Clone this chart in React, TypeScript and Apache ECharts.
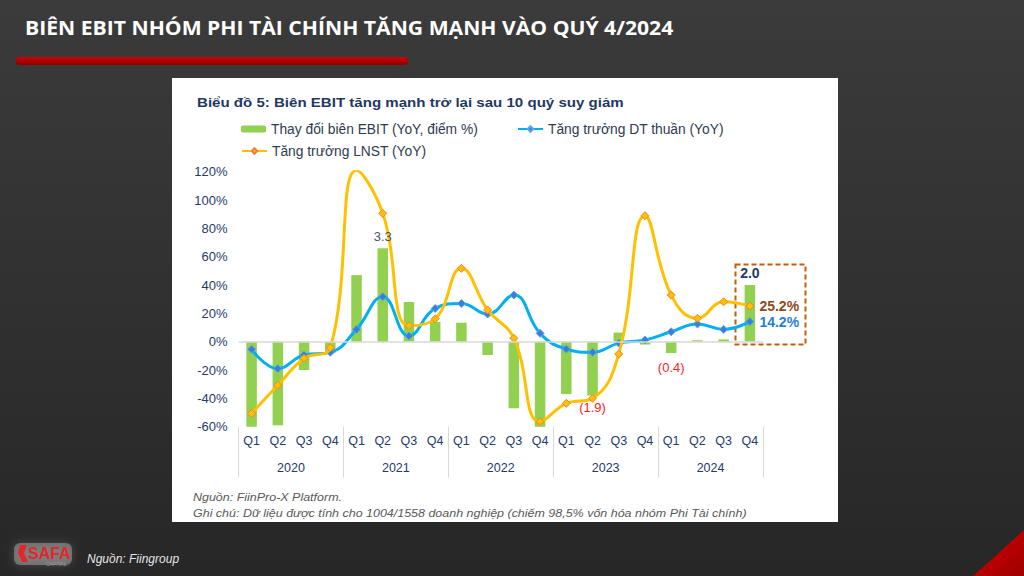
import React, { useEffect, useRef } from "react";
import * as echarts from "echarts";

const years = ["2020", "2021", "2022", "2023", "2024"];
const quarters = ["Q1", "Q2", "Q3", "Q4"];
const categories = years.flatMap((y) => quarters.map((q) => `${q} ${y}`));

// Thay đổi biên EBIT (YoY, điểm %) – percentage points
const ebitMarginChange = [
  -3.0, -2.95, -1.0, -0.4,
  2.35, 3.3, 1.4, 0.7,
  0.67, -0.47, -2.35, -3.0,
  -1.85, -1.9, 0.32, -0.1,
  -0.4, 0.05, 0.08, 2.0,
];
// Tăng trưởng DT thuần (YoY, %)
const revenueGrowth = [
  -5.4, -19, -9.4, -7.5,
  8.7, 31.8, 4, 23.5,
  27, 19.5, 32.9, 5.9,
  -5.2, -7.5, -1, 1.2,
  7, 12.5, 8.7, 14.2,
];
// Tăng trưởng LNST (YoY, %)
const profitGrowth = [
  -50.6, -30.8, -11.8, -4.2,
  121, 90.6, 11.3, 16.2,
  51.8, 22.4, 2.4, -56.5,
  -43.5, -40, -8.7, 88.9,
  32.9, 16.5, 28.2, 25.2,
];

const yMin = -60;
const yMax = 120;
const yStep = 20;

const NAME_BAR = "Thay đổi biên EBIT (YoY, điểm %)";
const NAME_REV = "Tăng trưởng DT thuần (YoY)";
const NAME_NP = "Tăng trưởng LNST (YoY)";

const FONT = "Liberation Sans, Arial, sans-serif";
const AXIS_COLOR = "#253a6b";

const fmtPP = (v: number) => (v < 0 ? `(${Math.abs(v).toFixed(1)})` : v.toFixed(1));

export default function App() {
  const ref = useRef<HTMLDivElement>(null);

  useEffect(() => {
    if (!ref.current) return;
    const chart = echarts.init(ref.current, undefined, { renderer: "svg" });

    const barLabelStyles: Record<number, any> = {
      5: { show: true, position: "top", distance: 5, color: "#44546a", fontSize: 13 },
      13: { show: true, position: "bottom", distance: 5, color: "#ff2020", fontSize: 13 },
      16: { show: true, position: "bottom", distance: 8, color: "#ff2020", fontSize: 13 },
      19: { show: true, position: "top", distance: 5, color: "#1f3864", fontSize: 14, fontWeight: "bold" },
    };

    // transparent twin of the bars, drawn above the lines, carrying the bar labels
    const barLabelData = ebitMarginChange.map((v, i) =>
      barLabelStyles[i]
        ? { value: v, label: { ...barLabelStyles[i], fontFamily: FONT, formatter: (p: any) => fmtPP(p.value) } }
        : v
    );

    const last = categories.length - 1;
    const endLabel = (color: string) => ({
      show: true,
      position: "right",
      distance: 5,
      color,
      fontWeight: "bold",
      fontSize: 14,
      fontFamily: FONT,
      formatter: (p: any) => `${p.value.toFixed(1)}%`,
    });
    const revData = revenueGrowth.map((v, i) => (i === last ? { value: v, label: endLabel("#1f7fd6") } : v));
    const npData = profitGrowth.map((v, i) => (i === last ? { value: v, label: endLabel("#8a4a1c") } : v));

    const legendText = { color: "#2f3b52", fontSize: 13.8, fontFamily: FONT };
    const legendBase = {
      itemWidth: 25,
      itemHeight: 7,
      padding: 0,
      textStyle: legendText,
      selectedMode: false,
    };

    chart.setOption({
      animation: false,
      backgroundColor: new echarts.graphic.LinearGradient(0, 0, 0, 1, [
        { offset: 0, color: "#3b3b3b" },
        { offset: 1, color: "#272727" },
      ]),
      textStyle: { fontFamily: FONT },
      graphic: [
        // white panel
        { type: "rect", shape: { x: 172, y: 78, width: 666, height: 444 }, style: { fill: "#ffffff" }, z: -10 },
        // header title
        {
          type: "text",
          x: 25,
          y: 28,
          scaleX: 1.113,
          style: {
            text: "BIÊN EBIT NHÓM PHI TÀI CHÍNH TĂNG MẠNH VÀO QUÝ 4/2024",
            fill: "#ffffff",
            font: "bold 19px 'Open Sans', sans-serif",
            textVerticalAlign: "middle",
          },
        },
        // red bar under title
        {
          type: "rect",
          shape: { x: 16, y: 57, width: 392, height: 8, r: 3 },
          style: {
            fill: new echarts.graphic.LinearGradient(0, 0, 0, 1, [
              { offset: 0, color: "#d00000" },
              { offset: 1, color: "#8c0000" },
            ]),
          },
        },
        // chart title
        {
          type: "text",
          x: 197,
          y: 102,
          scaleX: 1.16,
          style: {
            text: "Biểu đồ 5: Biên EBIT tăng mạnh trở lại sau 10 quý suy giảm",
            fill: "#1f3864",
            font: `bold 13px ${FONT}`,
            textVerticalAlign: "middle",
          },
        },
        // footnotes
        {
          type: "text",
          x: 193,
          y: 497,
          scaleX: 1.135,
          style: {
            text: "Nguồn: FiinPro-X Platform.",
            fill: "#595959",
            font: `italic 11px ${FONT}`,
            textVerticalAlign: "middle",
          },
        },
        {
          type: "text",
          x: 193,
          y: 513,
          scaleX: 1.135,
          style: {
            text: "Ghi chú: Dữ liệu được tính cho 1004/1558 doanh nghiệp (chiếm 98,5% vốn hóa nhóm Phi Tài chính)",
            fill: "#595959",
            font: `italic 11px ${FONT}`,
            textVerticalAlign: "middle",
          },
        },
        // dashed highlight box
        {
          type: "rect",
          shape: { x: 735.5, y: 264.5, width: 70, height: 80 },
          style: { fill: "none", stroke: "#c55a11", lineWidth: 2, lineDash: [5, 3] },
        },
        // logo glow
        {
          type: "rect",
          shape: { x: 14, y: 543, width: 58, height: 22, r: 6 },
          style: { fill: "rgba(255,255,255,0.28)", shadowBlur: 10, shadowColor: "rgba(255,255,255,0.6)" },
        },
        {
          type: "polygon",
          shape: { points: [[20, 545], [27, 545], [24, 553], [28, 562], [22, 562], [18, 553]] },
          style: { fill: "#e3262b" },
        },
        {
          type: "text",
          x: 28,
          y: 553,
          style: {
            text: "SAFA",
            fill: "#e3262b",
            font: `bold 16px ${FONT}`,
            textVerticalAlign: "middle",
          },
        },
        {
          type: "text",
          x: 46,
          y: 564,
          style: { text: "CAPITAL", fill: "#9a9a9a", font: `5px ${FONT}`, textVerticalAlign: "middle" },
        },
        {
          type: "text",
          x: 87,
          y: 559,
          style: {
            text: "Nguồn: Fiingroup",
            fill: "#e6e6e6",
            font: `italic 12px ${FONT}`,
            textVerticalAlign: "middle",
          },
        },
        // bottom-right red corner
        {
          type: "polygon",
          shape: { points: [[973, 576], [1024, 530], [1024, 576]] },
          style: {
            fill: new echarts.graphic.LinearGradient(0, 0, 1, 1, [
              { offset: 0, color: "#d00000" },
              { offset: 1, color: "#a00000" },
            ]),
          },
        },
      ],
      legend: [
        { ...legendBase, data: [NAME_BAR], left: 241, top: 122 },
        { ...legendBase, data: [NAME_REV], left: 517, top: 122 },
        { ...legendBase, data: [NAME_NP], left: 241, top: 144 },
      ],
      grid: { left: 238.5, right: 261, top: 171.7, bottom: 149.3, containLabel: false },
      xAxis: [
        {
          type: "category",
          data: categories,
          position: "bottom",
          axisLine: { show: false, onZero: false },
          axisTick: { show: false },
          axisLabel: {
            interval: 0,
            margin: 8,
            color: AXIS_COLOR,
            fontSize: 12.5,
            fontFamily: FONT,
            formatter: (v: string) => v.split(" ")[0],
          },
        },
        {
          type: "category",
          data: years,
          position: "bottom",
          axisLine: { show: false, onZero: false },
          axisTick: { show: true, length: 51, lineStyle: { color: "#d9d9d9", width: 1 } },
          axisLabel: { interval: 0, margin: 35, color: AXIS_COLOR, fontSize: 12.5, fontFamily: FONT },
        },
      ],
      yAxis: [
        {
          type: "value",
          min: yMin,
          max: yMax,
          interval: yStep,
          axisLine: { show: false },
          axisTick: { show: false },
          splitLine: { show: false },
          axisLabel: {
            margin: 11,
            color: AXIS_COLOR,
            fontSize: 13,
            fontFamily: FONT,
            formatter: (v: number) => `${v}%`,
          },
        },
        {
          type: "value",
          min: yMin / yStep,
          max: yMax / yStep,
          interval: 1,
          show: false,
          splitLine: { show: false },
        },
      ],
      series: [
        {
          name: NAME_BAR,
          type: "bar",
          xAxisIndex: 0,
          yAxisIndex: 1,
          data: ebitMarginChange,
          barWidth: "40%",
          itemStyle: { color: "#92d050" },
          z: 2,
          markLine: {
            silent: true,
            symbol: "none",
            label: { show: false },
            lineStyle: { color: "#d9d9d9", width: 1.5, type: "solid" },
            data: [{ yAxis: 0 }],
          },
        },
        {
          name: NAME_REV,
          type: "line",
          xAxisIndex: 0,
          yAxisIndex: 0,
          data: revData,
          smooth: 0.45,
          symbol: "diamond",
          symbolSize: 8,
          lineStyle: { color: "#00b0f0", width: 3 },
          itemStyle: { color: "#3b7dd8", borderColor: "#5aa7e8", borderWidth: 1 },
          z: 3,
        },
        {
          name: NAME_NP,
          type: "line",
          xAxisIndex: 0,
          yAxisIndex: 0,
          data: npData,
          smooth: 0.45,
          symbol: "diamond",
          symbolSize: 8,
          lineStyle: { color: "#ffc000", width: 3 },
          itemStyle: { color: "#ffc000", borderColor: "#f08040", borderWidth: 1 },
          z: 4,
        },
        {
          name: "bar-labels",
          type: "bar",
          xAxisIndex: 0,
          yAxisIndex: 1,
          data: barLabelData,
          barWidth: "40%",
          barGap: "-100%",
          silent: true,
          itemStyle: { color: "rgba(0,0,0,0)" },
          z: 6,
        },
      ],
    });

    return () => chart.dispose();
  }, []);

  return (
    <div
      ref={ref}
      style={{ position: "fixed", left: 0, top: 0, width: 1024, height: 576 }}
    />
  );
}
